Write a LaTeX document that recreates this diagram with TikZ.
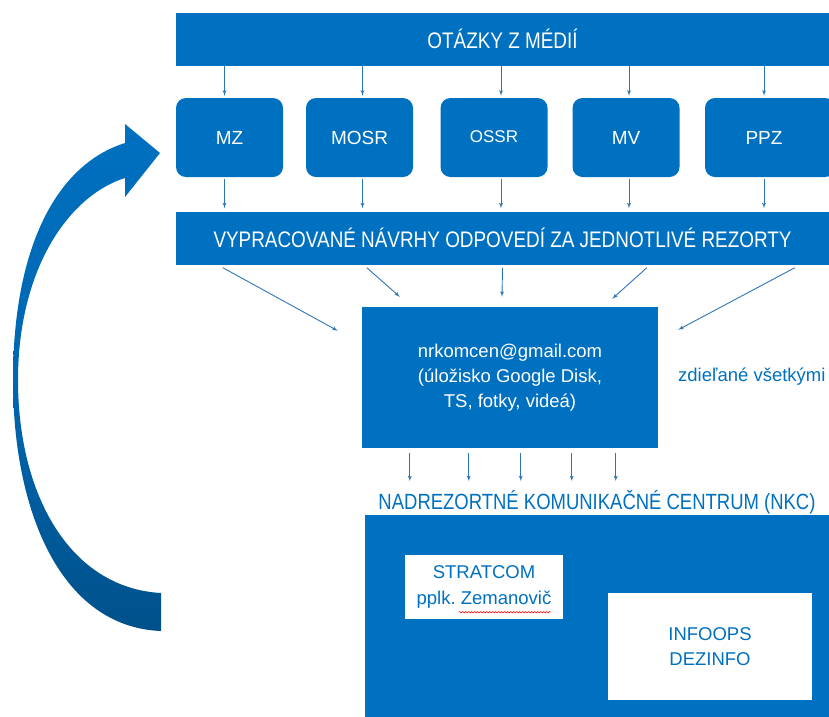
\documentclass[tikz,border=0pt]{standalone}
\usepackage{fontspec}
\setmainfont{Liberation Sans}
\newfontfamily\narrowfont[FakeStretch=0.84]{Liberation Sans}
\usetikzlibrary{arrows,calc,decorations.pathmorphing}
\definecolor{nkblue}{HTML}{0070C0}
\definecolor{linkblue}{HTML}{2E75B6}
\tikzset{every picture/.style={
  >=latex'                      % LaTeX style arrows.
  }
}
\frenchspacing

\begin{document}
\begin{tikzpicture}[
    x=1pt, y=-1pt,
    bar/.style={
      fill=nkblue,
      text=white,
      minimum width=653pt,
      minimum height=53pt,
      inner sep=0pt,
      font=\narrowfont\fontsize{22.5}{26}\selectfont
    },
    dept/.style={
      fill=nkblue,
      text=white,
      rounded corners=10pt,
      minimum width=107pt,
      minimum height=79pt,
      inner sep=0pt,
      font=\fontsize{19}{22}\selectfont
    },
    panel/.style={
      fill=nkblue,
      text=white,
      align=center,
      inner sep=0pt,
      font=\fontsize{18.5}{25}\selectfont
    },
    card/.style={
      fill=white,
      text=nkblue,
      align=center,
      inner sep=0pt,
      font=\fontsize{18.5}{25.5}\selectfont
    },
    link/.style={
      ->,
      draw=linkblue,
      line width=0.9pt
    }]

    \useasboundingbox (0,0) rectangle (829,716);
    \clip (0,0) rectangle (829,716);

    % Media questions and the departments.
    \node[bar] (otazky) at (502.5,39) {OTÁZKY Z MÉDIÍ};
    \node[dept] (mz) at (229.5,137.5) {MZ};
    \node[dept,font=\fontsize{17}{20}\selectfont] (ossr) at (494,137.5)
      {\raisebox{2pt}{OSSR}};
    \node[dept] (mosr) at (359.5,137.5) {MOSR};
    \node[dept] (mv) at (626,137.5) {MV};
    \node[dept,minimum width=130pt] (ppz) at (770,137.5) {\hspace*{-12pt}PPZ};
    \node[bar] (vypr) at (502.5,238) {VYPRACOVANÉ NÁVRHY ODPOVEDÍ ZA
      JEDNOTLIVÉ REZORTY};

    \foreach \b/\dx in {mz/-5,mosr/3,ossr/7,mv/3,ppz/-6}{
      \draw[link] ([xshift=\dx pt] \b.north |- otazky.south) --
        ([xshift=\dx pt,yshift=2pt] \b.north);
      \draw[link] ([xshift=\dx pt,yshift=-2pt] \b.south) --
        ([xshift=\dx pt,yshift=3pt] \b.south |- vypr.north);
    }

    % Shared storage.
    \node[panel,minimum width=296pt,minimum height=141pt] (email)
      at (510,377.5) {nrkomcen@gmail.com\\
      (úložisko Google Disk,\\ TS, fotky, videá)};
    \node[anchor=west,text=nkblue,inner sep=0pt,
      font=\fontsize{18.5}{22}\selectfont] (shared) at (678,377)
      {zdieľané všetkými};

    \draw[link] ([xshift=47pt,yshift=-3pt] vypr.south west) --
      ([xshift=-24pt,yshift=-24pt] email.north west);
    \draw[link] ([xshift=191pt,yshift=-3pt] vypr.south west) --
      ([xshift=38pt,yshift=10pt] email.north west);
    \draw[link] ([yshift=-3pt] vypr.south) --
      ([xshift=-8pt,yshift=10pt] email.north);
    \draw[link] ([xshift=471pt,yshift=-3pt] vypr.south west) --
      ([xshift=-46pt,yshift=8pt] email.north east);
    \draw[link] ([xshift=619pt,yshift=-3pt] vypr.south west) --
      ([xshift=20pt,yshift=-23pt] email.north east);

    \foreach \dx in {48,107,159,210,254}
      \draw[link] ([xshift=\dx pt,yshift=-5pt] email.south west) --
        ([xshift=\dx pt,yshift=-33pt] email.south west);

    % The communication centre.
    \node[text=nkblue,inner sep=0pt,
      font=\narrowfont\fontsize{22}{26}\selectfont] (nkctitle)
      at (597,502) {NADREZORTNÉ KOMUNIKAČNÉ CENTRUM (NKC)};
    \node[panel,minimum width=474pt,minimum height=214pt] (nkc)
      at (602,622) {};
    \node[card,minimum width=158pt,minimum height=64pt] (stratcom)
      at (484,587) {STRATCOM\\ pplk. Zemanovič};
    \node[card,minimum width=204pt,minimum height=107pt] (infoops)
      at (710,646.5) {INFOOPS\\ DEZINFO};
    \draw[red,line width=0.5pt,decorate,
      decoration={snake,amplitude=0.8pt,segment length=3pt}]
      ([xshift=54pt,yshift=7pt] stratcom.south west) --
      ([xshift=146pt,yshift=7pt] stratcom.south west);

    % Feedback arrow back to the departments.
    \shade[top color=nkblue,bottom color=nkblue!72!black,
      middle color=nkblue!92!black]
      (161,593) -- (161,631)
      .. controls (60,627) and (13,510) .. (13,380)
      .. controls (13,250) and (55,165) .. (125,143)
      -- (125,124) -- (160,153) -- (125,197) -- (125,178)
      .. controls (68,196) and (18,270) .. (18,380)
      .. controls (18,495) and (70,588) .. (161,593) -- cycle;

  \end{tikzpicture}
\end{document}
